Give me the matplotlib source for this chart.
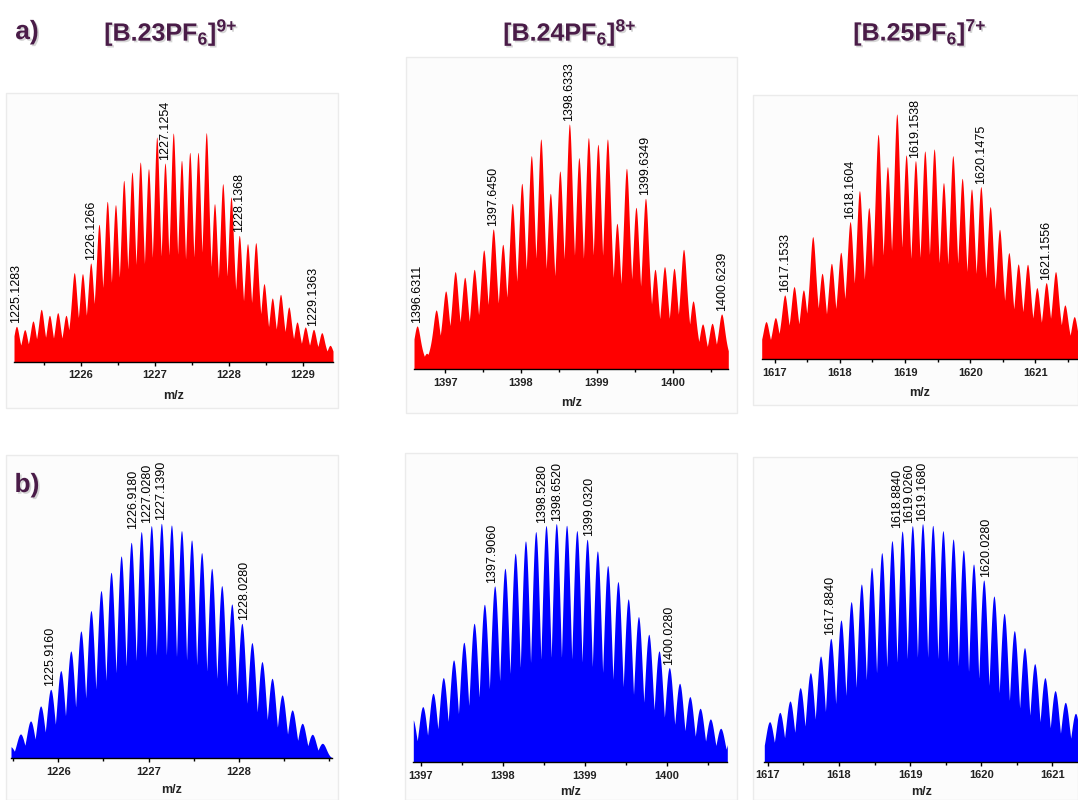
import numpy as np
import matplotlib
matplotlib.use('Agg')
import matplotlib.pyplot as plt
import matplotlib.patheffects as pe
from matplotlib.patches import Rectangle
from matplotlib.ticker import MultipleLocator, FormatStrFormatter

plt.rcParams['font.family'] = ['Liberation Sans', 'DejaVu Sans']
plt.rcParams['mathtext.fontset'] = 'custom'
plt.rcParams['mathtext.rm'] = 'Liberation Sans:bold'
plt.rcParams['mathtext.it'] = 'Liberation Sans:bold'
plt.rcParams['mathtext.bf'] = 'Liberation Sans:bold'

# ---- data (peak intensities, arbitrary units) ----
titles = [r'[B.23PF$_6$]$^{9{+}}$', r'[B.24PF$_6$]$^{8{+}}$', r'[B.25PF$_6$]$^{7{+}}$']
charges = [9, 8, 7]

# a) experimental
a1_start = 1225.1283
a1_int = [107, 97, 123, 158, 140, 148, 140, 268, 265, 297, 413, 482, 472, 545, 570,
          600, 580, 675, 597, 687, 605, 629, 629, 688, 475, 535, 495, 380, 355, 358,
          235, 192, 203, 165, 120, 105, 98, 88, 50]
a1_labels = ['1225.1283', '1226.1266', '1227.1254', '1228.1368', '1229.1363']

a2_start = 1396.6311
a2_int = [130, 48, 178, 235, 293, 276, 300, 358, 421, 375, 498, 558, 641, 691, 528,
          595, 736, 635, 695, 675, 691, 438, 603, 486, 513, 300, 308, 303, 360, 205,
          136, 138, 166]
a2_labels = ['1396.6311', '1397.6450', '1398.6333', '1399.6349', '1400.6239']

a3_start = 1616.8666
a3_int = [113, 125, 193, 218, 208, 368, 258, 288, 321, 413, 506, 455, 675, 578, 736,
          613, 596, 625, 631, 530, 611, 543, 511, 518, 458, 390, 320, 286, 285, 215,
          230, 263, 163, 128]
a3_labels = ['1617.1533', '1618.1604', '1619.1538', '1620.1475', '1621.1556']

# b) simulated
b1_start = 1225.470
b1_int = [35, 73, 112, 157, 207, 263, 322, 382, 443, 503, 558, 607, 648, 680, 698,
          705, 700, 683, 655, 617, 570, 518, 463, 405, 347, 290, 240, 190, 145, 105,
          72, 45]
b1_labels = ['1225.9160', '1226.9180', '1227.0280', '1227.1390', '1228.0280']

b2_start = 1396.896
b2_int = [130, 167, 207, 254, 307, 360, 417, 474, 529, 582, 627, 664, 692, 710, 716,
          711, 695, 669, 634, 590, 542, 490, 437, 384, 334, 284, 237, 197, 162, 130,
          102, 80]
b2_labels = ['1397.9060', '1398.5280', '1398.6520', '1399.0320', '1400.0280']

b3_start = 1616.881
b3_int = [95, 120, 148, 182, 222, 267, 317, 370, 425, 480, 533, 583, 627, 663, 692,
          708, 714, 709, 693, 668, 635, 593, 545, 497, 445, 393, 342, 294, 252, 213,
          178, 145]
b3_labels = ['1617.8840', '1618.8840', '1619.0260', '1619.1680', '1620.0280']

# ---- layout (pixels) ----
W, H = 1078, 800
purple = '#4a1c48'
fig = plt.figure(figsize=(W / 100, H / 100), dpi=100)

# faint panel frames, drawn on a background axes
bg = fig.add_axes([0, 0, 1, 1], zorder=-5)
bg.set_xlim(0, W)
bg.set_ylim(H, 0)
bg.axis('off')
frames = [(6, 93, 338, 408), (406, 57, 737, 413), (753, 95, 1078, 405),
          (6, 455, 338, 800), (405, 453, 737, 800), (753, 457, 1078, 800)]
for fx0, fy0, fx1, fy1 in frames:
    bg.add_patch(Rectangle((fx0, fy0), fx1 - fx0, fy1 - fy0, facecolor='#fcfcfc',
                           edgecolor='#ebebeb', lw=1))


def panel(x0, x1, base, peak_px, xlim, start, z, inten, labels, offsets, color, kind,
          mz_off=-34):
    ax = fig.add_axes([x0 / W, (H - base) / H, (x1 - x0) / W, peak_px / 0.9 / H])
    ax.set_facecolor('none')
    d = 1.0034 / z
    inten = np.array(inten, float)
    h = inten / inten.max()
    centers = start + d * np.arange(len(h))
    x = np.linspace(xlim[0], xlim[1], 5000)
    dx = x[None, :] - centers[:, None]
    if kind == 'lor':
        g = 0.5 * d
        prof = h[:, None] / (1 + (dx / g) ** 2)
    else:
        s = 0.39 * d
        prof = h[:, None] * np.exp(-dx ** 2 / (2 * s ** 2))
    y = prof.max(axis=0)
    ax.fill_between(x, 0, y, color=color, lw=0)
    ax.set_xlim(*xlim)
    ax.set_ylim(0, 1 / 0.9)
    for sp in ['top', 'left', 'right']:
        ax.spines[sp].set_visible(False)
    ax.spines['bottom'].set_linewidth(1.0)
    ax.set_yticks([])
    majors = [m for m in range(int(xlim[0]), int(xlim[1]) + 1)
              if xlim[0] + 0.04 <= m <= xlim[1] - 0.04]
    ax.set_xticks(majors)
    ax.xaxis.set_minor_locator(MultipleLocator(0.5))
    ax.xaxis.set_major_formatter(FormatStrFormatter('%d'))
    ax.tick_params(axis='x', which='major', length=3, width=1, pad=3,
                   labelsize=8, labelcolor='#222222')
    ax.tick_params(axis='x', which='minor', length=2.5, width=1)
    for t in ax.get_xticklabels():
        t.set_fontweight('bold')
    ax.annotate('m/z', xy=(0.5, 0), xycoords='axes fraction', xytext=(0, mz_off),
                textcoords='offset pixels', ha='center', va='center',
                fontsize=9, fontweight='bold', color='#222222')
    for lab, off in zip(labels, offsets):
        i = int(round((float(lab) - start) / d))
        ax.annotate(lab, xy=(centers[i], h[i]), xytext=(off, 3), textcoords='offset pixels',
                    rotation=90, ha='center', va='bottom', fontsize=9, color='black')
    return ax


panel(14, 333, 362, 229.3, (1225.095, 1229.405), a1_start, charges[0], a1_int,
      a1_labels, [0, 0, 0, 0, 0], '#ff0000', 'lor')
panel(414, 728.3, 369.3, 245.3, (1396.59, 1400.733), a2_start, charges[1], a2_int,
      a2_labels, [0, 0, 0, 0, 0], '#ff0000', 'lor')
panel(761.7, 1078, 359.3, 245.3, (1616.80, 1621.655), a3_start, charges[2], a3_int,
      a3_labels, [0, 0, 0, 0, 0], '#ff0000', 'lor')
panel(11, 331.7, 758.3, 235, (1225.476, 1229.03), b1_start, charges[0], b1_int,
      b1_labels, [-1, -8, -4, 0, 2], '#0000ff', 'gau', mz_off=-32)
panel(413.3, 727.3, 762.3, 238.7, (1396.906, 1400.74), b2_start, charges[1], b2_int,
      b2_labels, [-3, -4, 1, 2, 0], '#0000ff', 'gau', mz_off=-30)
panel(764.3, 1078, 761.7, 238, (1616.95, 1621.36), b3_start, charges[2], b3_int,
      b3_labels, [-1, -5, -3, 0, 2], '#0000ff', 'gau', mz_off=-30)

shadow = [pe.withSimplePatchShadow(offset=(1.2, -1.2), shadow_rgbFace='#888888', alpha=0.35)]
for xc, t in zip([171, 570, 920], titles):
    fig.text(xc / W, 1 - 32 / H, t, ha='center', va='center', fontsize=18,
             fontweight='bold', color=purple, path_effects=shadow)
fig.text(27 / W, 1 - 32 / H, 'a)', ha='center', va='center', fontsize=19,
         fontweight='bold', color=purple, path_effects=shadow)
fig.text(27 / W, 1 - 485 / H, 'b)', ha='center', va='center', fontsize=19,
         fontweight='bold', color=purple, path_effects=shadow)

fig.savefig('out.png', dpi=100)
